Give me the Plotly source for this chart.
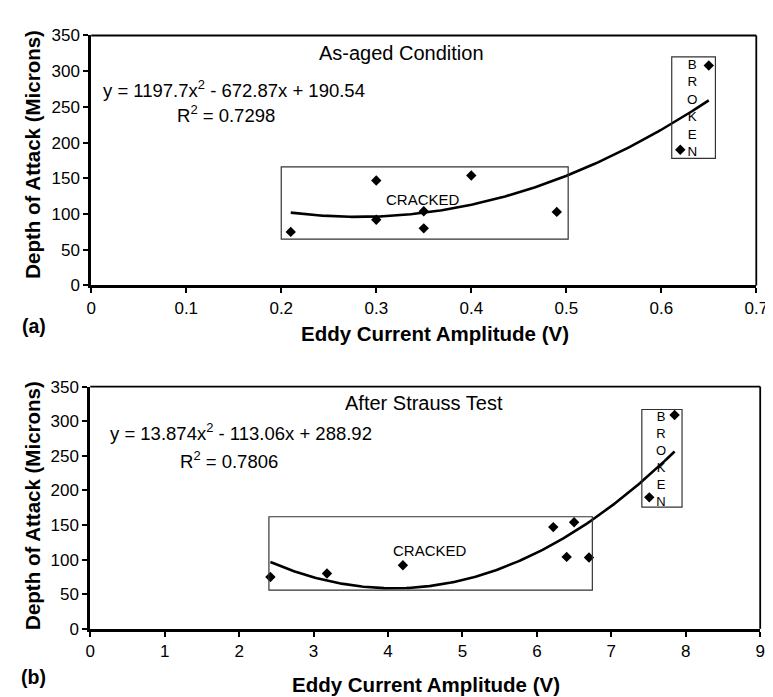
import numpy as np
import plotly.graph_objects as go

# ---- data: (a) As-aged condition ----
a_x = [0.21, 0.30, 0.30, 0.35, 0.35, 0.40, 0.49, 0.62, 0.65]
a_y = [75, 147, 92, 104, 80, 154, 103, 190, 308]
a_coef = [1197.7, -672.87, 190.54]
a_r2 = "0.7298"

# ---- data: (b) After Strauss test ----
b_x = [2.42, 3.18, 4.20, 6.22, 6.50, 6.40, 6.70, 7.51, 7.85]
b_y = [75, 80, 92, 147, 154, 104, 103, 190, 309]
b_coef = [13.874, -113.06, 288.92]
b_r2 = "0.7806"

y_ticks = [0, 50, 100, 150, 200, 250, 300, 350]
a_xticks = [0, 0.1, 0.2, 0.3, 0.4, 0.5, 0.6, 0.7]
b_xticks = [0, 1, 2, 3, 4, 5, 6, 7, 8, 9]

W, H = 773, 697
FONT = "Liberation Sans, Arial, sans-serif"

def px(v):
    return v / W

def py(v):
    return (H - v) / H

fig = go.Figure()

def add_panel(xs, ys, coef, xa, ya):
    xf = np.linspace(min(xs), max(xs), 200)
    yf = np.polyval(coef, xf)
    fig.add_trace(go.Scatter(x=xs, y=ys, mode="markers", xaxis=xa, yaxis=ya,
                             marker=dict(symbol="diamond", size=8, color="black"),
                             showlegend=False, hoverinfo="skip"))
    fig.add_trace(go.Scatter(x=xf, y=yf, mode="lines", xaxis=xa, yaxis=ya,
                             line=dict(color="black", width=2.6),
                             showlegend=False, hoverinfo="skip"))

add_panel(a_x, a_y, a_coef, "x", "y")
add_panel(b_x, b_y, b_coef, "x2", "y2")

axis_common = dict(showline=True, linecolor="black", linewidth=2.8, mirror=False,
                   ticks="outside", ticklen=5, tickwidth=1.5, tickcolor="black",
                   showgrid=False, zeroline=False,
                   tickfont=dict(family=FONT, size=17, color="black"))

fig.update_layout(
    width=W, height=H, autosize=False,
    margin=dict(l=0, r=0, t=0, b=0),
    paper_bgcolor="white", plot_bgcolor="white",
    font=dict(family=FONT, color="black"),
    xaxis=dict(domain=[px(80), px(760)], range=[0, 0.7], tickvals=a_xticks,
               ticktext=[str(v) for v in a_xticks], anchor="y", **axis_common),
    yaxis=dict(domain=[py(276), py(19)], range=[0, 350], tickvals=y_ticks, anchor="x",
               **axis_common),
    xaxis2=dict(domain=[px(79), px(764)], range=[0, 9], tickvals=b_xticks, anchor="y2",
                **axis_common),
    yaxis2=dict(domain=[py(629), py(380)], range=[0, 350], tickvals=y_ticks, anchor="x2",
                **axis_common),
)

shapes = []
# top / right frame edges (thinner than the axis lines)
for xr, yr in (("x domain", "y domain"), ("x2 domain", "y2 domain")):
    shapes.append(dict(type="line", xref=xr, yref=yr, x0=0, x1=1, y0=1, y1=1,
                       line=dict(color="black", width=1.8)))
    shapes.append(dict(type="line", xref=xr, yref=yr, x0=1, x1=1, y0=0, y1=1,
                       line=dict(color="black", width=1.8)))
# boxes
shapes.append(dict(type="rect", xref="x", yref="y", x0=0.2, x1=0.502, y0=65, y1=166,
                   line=dict(color="#333", width=1.2)))
shapes.append(dict(type="rect", xref="x", yref="y", x0=0.611, x1=0.657, y0=178, y1=320,
                   line=dict(color="#333", width=1.2)))
shapes.append(dict(type="rect", xref="x2", yref="y2", x0=2.40, x1=6.745, y0=56, y1=162,
                   line=dict(color="#333", width=1.2)))
shapes.append(dict(type="rect", xref="x2", yref="y2", x0=7.41, x1=7.95, y0=176, y1=317,
                   line=dict(color="#333", width=1.2)))
fig.update_layout(shapes=shapes)

def eq_text(c):
    return "y = %sx<sup>2</sup> - %sx + %s" % (c[0], abs(c[1]), c[2])

ann = []
def A(text, x, y, xref, yref, size, bold=False, **kw):
    d = dict(text=("<b>%s</b>" % text) if bold else text, x=x, y=y, xref=xref, yref=yref,
             showarrow=False, font=dict(family=FONT, size=size, color="black"),
             xanchor="center", yanchor="middle")
    d.update(kw)
    ann.append(d)

# panel (a)
A("As-aged Condition", 0.327, 326, "x", "y", 20)
A(eq_text(a_coef), 0.150, 275, "x", "y", 18.5)
A("R<sup>2</sup> = " + a_r2, 0.142, 240, "x", "y", 18.5)
A("CRACKED", 0.349, 120, "x", "y", 15)
A("B<br>R<br>O<br>K<br>E<br>N", 0.632, 249, "x", "y", 13.4)
# panel (b)
A("After Strauss Test", 4.49, 327, "x2", "y2", 20)
A(eq_text(b_coef), 2.03, 284.5, "x2", "y2", 18.5)
A("R<sup>2</sup> = " + b_r2, 1.86, 244.7, "x2", "y2", 18.5)
A("CRACKED", 4.56, 112.7, "x2", "y2", 15)
A("B<br>R<br>O<br>K<br>E<br>N", 7.67, 245.5, "x2", "y2", 13)

# axis titles and panel labels
A("Depth of Attack (Microns)", px(20), py(141), "paper", "paper", 20.5, bold=True, textangle=-90)
A("Depth of Attack (Microns)", px(20), py(502), "paper", "paper", 20.5, bold=True, textangle=-90)
A("Eddy Current Amplitude (V)", px(432), py(325), "paper", "paper", 20.5, bold=True)
A("Eddy Current Amplitude (V)", px(422), py(686), "paper", "paper", 20.5, bold=True)
A("(a)", px(21), py(318), "paper", "paper", 19.5, bold=True)
A("(b)", px(21), py(678), "paper", "paper", 19.5, bold=True)

fig.update_layout(annotations=ann)
fig.write_html("out.html")
